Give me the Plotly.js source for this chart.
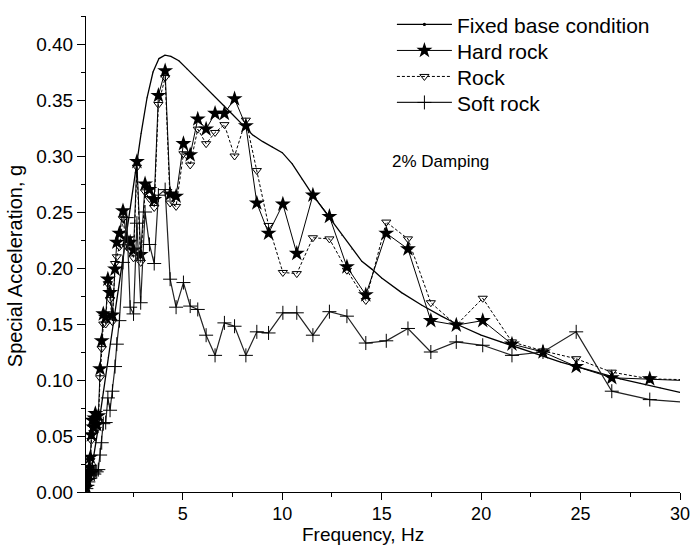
<!DOCTYPE html>
<html>
<head>
<meta charset="utf-8">
<script src="https://cdn.plot.ly/plotly-3.0.1.min.js"></script>
<style>
  html, body { margin: 0; padding: 0; background: #fff; }
  #chart { width: 691px; height: 547px; }
</style>
</head>
<body>
<div id="chart"></div>
<script>
// Fixed-base response spectrum (smooth curve)
var freqFixed = [0.15, 0.2, 0.35, 0.5, 0.75, 1.0, 1.25, 1.5, 1.75, 2.0, 2.3, 2.6, 2.9, 3.2, 3.5, 3.8, 4.1, 4.4, 4.8, 5.2, 5.6, 6.0, 6.5, 7.0, 7.5, 8.0, 8.5, 9.0, 9.5, 10.0, 10.5, 11.0, 11.5, 12.0, 12.5, 13.0, 13.5, 14.0, 14.5, 15.0, 16.0, 17.0, 18.0, 19.0, 20.0, 21.0, 22.0, 23.0, 24.0, 25.0, 26.0, 27.0, 28.0, 29.0, 30.0];
var accFixed = [0.0, 0.005, 0.016, 0.03, 0.058, 0.09, 0.12, 0.15, 0.18, 0.21, 0.245, 0.285, 0.32, 0.352, 0.375, 0.387, 0.390, 0.389, 0.385, 0.378, 0.371, 0.364, 0.355, 0.346, 0.337, 0.328, 0.319, 0.313, 0.308, 0.303, 0.293, 0.279, 0.266, 0.254, 0.242, 0.229, 0.217, 0.206, 0.199, 0.191, 0.178, 0.167, 0.157, 0.148, 0.140, 0.134, 0.128, 0.122, 0.116, 0.111, 0.106, 0.101, 0.097, 0.093, 0.089];

// Frequencies at which the three site conditions were evaluated
var freqSite = [0.15, 0.20, 0.25, 0.30, 0.35, 0.40, 0.45, 0.50, 0.55, 0.60,
  0.67, 0.75, 0.84, 0.92, 1.00, 1.12, 1.23, 1.34, 1.46, 1.59,
  1.68, 1.81, 1.99, 2.18, 2.35, 2.52, 2.69, 2.88, 3.10, 3.32,
  3.56, 3.77, 4.11, 4.36, 4.66, 5.03, 5.37, 5.75, 6.17, 6.62,
  7.09, 7.60, 8.17, 8.72, 9.31, 10.03, 10.73, 11.54, 12.37, 13.25,
  14.20, 15.23, 16.32, 17.47, 18.75, 20.08, 21.55, 23.11, 24.78, 26.57,
  28.48, 31.0];

var accHardRock = [0.004, 0.010, 0.016, 0.022, 0.031, 0.051, 0.064, 0.058, 0.066, 0.070,
  0.060, 0.068, 0.110, 0.135, 0.159, 0.156, 0.190, 0.178, 0.158, 0.199,
  0.223, 0.231, 0.251, 0.226, 0.223, 0.216, 0.295, 0.212, 0.275, 0.270,
  0.261, 0.354, 0.376, 0.266, 0.264, 0.311, 0.301, 0.333, 0.324, 0.338,
  0.338, 0.351, 0.327, 0.258, 0.231, 0.257, 0.213, 0.265, 0.246, 0.201,
  0.176, 0.231, 0.217, 0.153, 0.149, 0.153, 0.132, 0.125, 0.112, 0.102,
  0.101, 0.099];

var accRock = [0.004, 0.009, 0.014, 0.020, 0.028, 0.046, 0.058, 0.053, 0.061, 0.066,
  0.056, 0.063, 0.102, 0.128, 0.150, 0.150, 0.186, 0.172, 0.152, 0.204,
  0.210, 0.219, 0.244, 0.219, 0.216, 0.209, 0.290, 0.205, 0.268, 0.262,
  0.254, 0.346, 0.370, 0.258, 0.255, 0.302, 0.292, 0.324, 0.311, 0.321,
  0.328, 0.300, 0.332, 0.287, 0.238, 0.196, 0.195, 0.227, 0.226, 0.198,
  0.171, 0.241, 0.226, 0.169, 0.149, 0.173, 0.134, 0.126, 0.119, 0.107,
  0.101, 0.100];

var accSoftRock = [0.003, 0.006, 0.009, 0.012, 0.015, 0.018, 0.020, 0.017, 0.016, 0.019,
  0.018, 0.020, 0.033, 0.044, 0.061, 0.062, 0.084, 0.073, 0.090, 0.112,
  0.132, 0.153, 0.205, 0.245, 0.165, 0.159, 0.240, 0.169, 0.250, 0.221,
  0.204, 0.265, 0.270, 0.190, 0.165, 0.187, 0.166, 0.163, 0.140, 0.122,
  0.151, 0.148, 0.122, 0.143, 0.142, 0.160, 0.160, 0.140, 0.161, 0.157,
  0.133, 0.135, 0.146, 0.125, 0.134, 0.131, 0.122, 0.125, 0.143, 0.090,
  0.0825, 0.079];

var seriesNames = ['Fixed base condition', 'Hard rock', 'Rock', 'Soft rock'];
var xTitle = 'Frequency, Hz';
var yTitle = 'Special Acceleration, g';
var noteText = '2% Damping';

var FONT = 'Arial, "Liberation Sans", Helvetica, sans-serif';

var traces = [
  {
    // points are tiny so the curve reads as a smooth line
    x: freqFixed, y: accFixed, name: seriesNames[0],
    type: 'scatter', mode: 'lines+markers',
    line: { color: '#000', width: 1.3 },
    marker: { symbol: 'circle', size: 1, color: '#000' }
  },
  {
    x: freqSite, y: accHardRock, name: seriesNames[1],
    type: 'scatter', mode: 'lines+markers',
    line: { color: '#000', width: 1 },
    marker: { symbol: 'star', size: 12, color: '#000', line: { width: 0 } }
  },
  {
    x: freqSite, y: accRock, name: seriesNames[2],
    type: 'scatter', mode: 'lines+markers',
    line: { color: '#000', width: 1, dash: '3px,2px' },
    marker: { symbol: 'triangle-down-open', size: 8, color: '#000', line: { width: 1, color: '#000' } }
  },
  {
    x: freqSite, y: accSoftRock, name: seriesNames[3],
    type: 'scatter', mode: 'lines+markers',
    line: { color: '#222', width: 1.2 },
    marker: { symbol: 'cross-thin-open', size: 10, color: '#000', line: { width: 1, color: '#000' } }
  }
];

var layout = {
  width: 691, height: 547,
  margin: { l: 86, r: 11, t: 10, b: 55 },
  paper_bgcolor: '#fff', plot_bgcolor: '#fff',
  font: { family: FONT, color: '#000', size: 18 },
  showlegend: true,
  legend: {
    x: 0.515, xanchor: 'left', y: 1.012, yanchor: 'top',
    bgcolor: 'rgba(0,0,0,0)', borderwidth: 0,
    font: { family: FONT, size: 21, color: '#000' },
    itemwidth: 55, tracegroupgap: 0
  },
  xaxis: {
    range: [0.13, 30], tickmode: 'linear', tick0: 0, dtick: 5,
    showgrid: false, zeroline: false,
    showline: true, linecolor: '#000', linewidth: 1,
    ticks: 'outside', ticklen: 7, tickwidth: 1, tickcolor: '#000',
    ticklabelstandoff: -2,
    minor: { ticks: 'outside', dtick: 2.5, tick0: 0, ticklen: 4, tickwidth: 1, tickcolor: '#000', showgrid: false },
    tickfont: { family: FONT, size: 18 }
  },
  yaxis: {
    range: [0, 0.425], tickmode: 'linear', tick0: 0, dtick: 0.05, tickformat: '.2f',
    showgrid: false, zeroline: false,
    showline: true, linecolor: '#000', linewidth: 1,
    ticks: 'outside', ticklen: 8, tickwidth: 1, tickcolor: '#000',
    minor: { ticks: 'outside', dtick: 0.025, tick0: 0, ticklen: 4, tickwidth: 1, tickcolor: '#000', showgrid: false },
    tickfont: { family: FONT, size: 19 }
  },
  annotations: [
    // axis titles placed as free text
    { x: 0.4663, y: -0.0892, xref: 'paper', yref: 'paper', xanchor: 'center', yanchor: 'middle',
      text: xTitle, showarrow: false, font: { family: FONT, size: 19, color: '#000' } },
    { x: -0.119, y: 0.475, xref: 'paper', yref: 'paper', xanchor: 'center', yanchor: 'middle',
      textangle: -90, text: yTitle, showarrow: false, font: { family: FONT, size: 20, color: '#000' } },
    { x: 15.4, y: 0.295, xref: 'x', yref: 'y', xanchor: 'left', yanchor: 'middle',
      text: noteText, showarrow: false, font: { family: FONT, size: 17, color: '#000' } }
  ]
};

Plotly.newPlot('chart', traces, layout, { staticPlot: true, displayModeBar: false }).then(function (gd) {
  // longer legend line samples, symbols centred on them, tighter row spacing
  gd.querySelectorAll('.legend .legendlines path').forEach(function (p) {
    p.setAttribute('d', 'M5,0h55');
  });
  gd.querySelectorAll('.legend .legendpoints path').forEach(function (p) {
    p.setAttribute('transform', 'translate(32.5,0)');
  });
  var items = gd.querySelectorAll('.legend .traces');
  var y0 = null;
  items.forEach(function (g, i) {
    var m = /translate\(([-\d.]+)[ ,]+([-\d.]+)\)/.exec(g.getAttribute('transform') || '');
    if (!m) return;
    if (y0 === null) y0 = parseFloat(m[2]) - 6;
    g.setAttribute('transform', 'translate(' + m[1] + ',' + (y0 + i * 26) + ')');
  });
  var firstPt = gd.querySelector('.legend .traces .legendpoints path');
  if (firstPt) firstPt.setAttribute('transform', 'translate(32.5,0) scale(1.6)');
});
</script>
</body>
</html>
